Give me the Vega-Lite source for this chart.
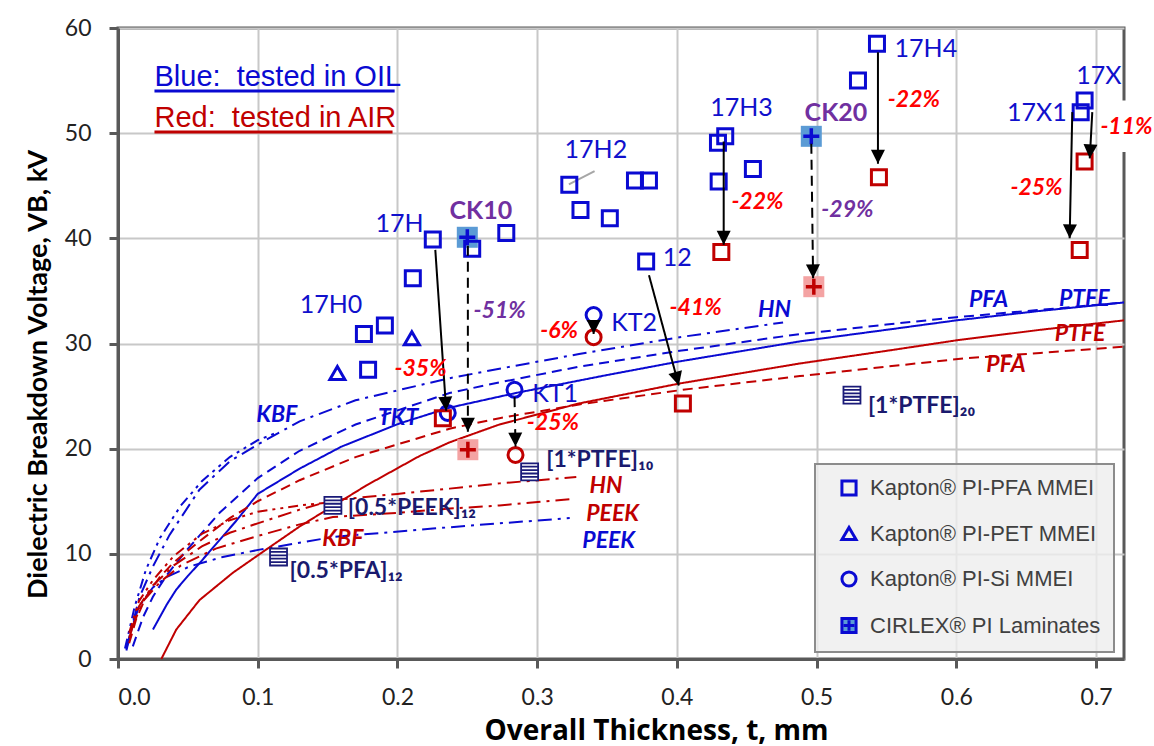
{
  "$schema": "https://vega.github.io/schema/vega-lite/v6.json",
  "width": 1006,
  "height": 631,
  "autosize": {"type": "none"},
  "padding": {"left": 118, "top": 28, "right": 30, "bottom": 87},
  "background": "white",
  "config": {
    "font": "Lato",
    "view": {"stroke": "#595959", "strokeWidth": 3},
    "legend": {
      "orient": "none", "legendX": 697, "legendY": 436,
      "fillColor": "rgba(238,238,238,0.8)", "strokeColor": "#8c8c8c", "strokeWidth": 2,
      "padding": 13, "rowPadding": 18.5, "labelOffset": 10, "symbolOffset": 10, "labelLimit": 400,
      "labelFont": "Liberation Sans", "labelFontSize": 22, "labelColor": "#404040",
      "symbolSize": 200, "symbolStrokeWidth": 3, "title": null
    }
  },
  "datasets": {
    "curves": [
      {"c": "PTFE", "m": "OIL", "x": 0.025, "y": 2.8}, {"c": "PTFE", "m": "OIL", "x": 0.035, "y": 5.2}, {"c": "PTFE", "m": "OIL", "x": 0.0417, "y": 6.6}, {"c": "PTFE", "m": "OIL", "x": 0.05, "y": 7.9}, {"c": "PTFE", "m": "OIL", "x": 0.0583, "y": 9.1}, {"c": "PTFE", "m": "OIL", "x": 0.07, "y": 10.9}, {"c": "PTFE", "m": "OIL", "x": 0.085, "y": 13.2}, {"c": "PTFE", "m": "OIL", "x": 0.1, "y": 15.7}, {"c": "PTFE", "m": "OIL", "x": 0.13, "y": 18.1}, {"c": "PTFE", "m": "OIL", "x": 0.16, "y": 20.2}, {"c": "PTFE", "m": "OIL", "x": 0.2015, "y": 22.4}, {"c": "PTFE", "m": "OIL", "x": 0.2373, "y": 23.9}, {"c": "PTFE", "m": "OIL", "x": 0.285, "y": 25.3}, {"c": "PTFE", "m": "OIL", "x": 0.35, "y": 27.0}, {"c": "PTFE", "m": "OIL", "x": 0.402, "y": 28.3}, {"c": "PTFE", "m": "OIL", "x": 0.488, "y": 30.2}, {"c": "PTFE", "m": "OIL", "x": 0.55, "y": 31.3}, {"c": "PTFE", "m": "OIL", "x": 0.6, "y": 32.2}, {"c": "PTFE", "m": "OIL", "x": 0.66, "y": 33.1}, {"c": "PTFE", "m": "OIL", "x": 0.72, "y": 33.9},
      {"c": "PFA", "m": "OIL", "x": 0.0106, "y": 1.2}, {"c": "PFA", "m": "OIL", "x": 0.018, "y": 4.0}, {"c": "PFA", "m": "OIL", "x": 0.0249, "y": 5.9}, {"c": "PFA", "m": "OIL", "x": 0.035, "y": 8.0}, {"c": "PFA", "m": "OIL", "x": 0.0488, "y": 10.3}, {"c": "PFA", "m": "OIL", "x": 0.0727, "y": 13.9}, {"c": "PFA", "m": "OIL", "x": 0.1, "y": 17.2}, {"c": "PFA", "m": "OIL", "x": 0.13, "y": 19.8}, {"c": "PFA", "m": "OIL", "x": 0.17, "y": 22.3}, {"c": "PFA", "m": "OIL", "x": 0.2373, "y": 25.3}, {"c": "PFA", "m": "OIL", "x": 0.273, "y": 26.3}, {"c": "PFA", "m": "OIL", "x": 0.33, "y": 27.8}, {"c": "PFA", "m": "OIL", "x": 0.402, "y": 29.3}, {"c": "PFA", "m": "OIL", "x": 0.488, "y": 30.9}, {"c": "PFA", "m": "OIL", "x": 0.55, "y": 31.8}, {"c": "PFA", "m": "OIL", "x": 0.6, "y": 32.5}, {"c": "PFA", "m": "OIL", "x": 0.66, "y": 33.2}, {"c": "PFA", "m": "OIL", "x": 0.72, "y": 33.9},
      {"c": "HN", "m": "OIL", "x": 0.006, "y": 1.0}, {"c": "HN", "m": "OIL", "x": 0.0154, "y": 5.9}, {"c": "HN", "m": "OIL", "x": 0.025, "y": 8.8}, {"c": "HN", "m": "OIL", "x": 0.0369, "y": 11.8}, {"c": "HN", "m": "OIL", "x": 0.0583, "y": 16.1}, {"c": "HN", "m": "OIL", "x": 0.08, "y": 18.8}, {"c": "HN", "m": "OIL", "x": 0.1014, "y": 20.5}, {"c": "HN", "m": "OIL", "x": 0.13, "y": 22.6}, {"c": "HN", "m": "OIL", "x": 0.17, "y": 24.6}, {"c": "HN", "m": "OIL", "x": 0.2373, "y": 26.7}, {"c": "HN", "m": "OIL", "x": 0.273, "y": 27.6}, {"c": "HN", "m": "OIL", "x": 0.33, "y": 29.0}, {"c": "HN", "m": "OIL", "x": 0.402, "y": 30.6}, {"c": "HN", "m": "OIL", "x": 0.476, "y": 32.0},
      {"c": "KBF", "m": "OIL", "x": 0.005, "y": 1.0}, {"c": "KBF", "m": "OIL", "x": 0.012, "y": 5.0}, {"c": "KBF", "m": "OIL", "x": 0.02, "y": 8.5}, {"c": "KBF", "m": "OIL", "x": 0.03, "y": 11.5}, {"c": "KBF", "m": "OIL", "x": 0.045, "y": 14.6}, {"c": "KBF", "m": "OIL", "x": 0.06, "y": 16.9}, {"c": "KBF", "m": "OIL", "x": 0.08, "y": 19.2}, {"c": "KBF", "m": "OIL", "x": 0.1, "y": 20.8}, {"c": "KBF", "m": "OIL", "x": 0.115, "y": 21.6},
      {"c": "PEEK", "m": "OIL", "x": 0.006, "y": 0.8}, {"c": "PEEK", "m": "OIL", "x": 0.01, "y": 3.0}, {"c": "PEEK", "m": "OIL", "x": 0.015, "y": 5.0}, {"c": "PEEK", "m": "OIL", "x": 0.025, "y": 6.8}, {"c": "PEEK", "m": "OIL", "x": 0.035, "y": 7.8}, {"c": "PEEK", "m": "OIL", "x": 0.0512, "y": 8.8}, {"c": "PEEK", "m": "OIL", "x": 0.075, "y": 9.7}, {"c": "PEEK", "m": "OIL", "x": 0.1014, "y": 10.4}, {"c": "PEEK", "m": "OIL", "x": 0.1538, "y": 11.6}, {"c": "PEEK", "m": "OIL", "x": 0.2253, "y": 12.4}, {"c": "PEEK", "m": "OIL", "x": 0.273, "y": 12.9}, {"c": "PEEK", "m": "OIL", "x": 0.3233, "y": 13.4},
      {"c": "PTFE", "m": "AIR", "x": 0.031, "y": 0.0}, {"c": "PTFE", "m": "AIR", "x": 0.0417, "y": 2.8}, {"c": "PTFE", "m": "AIR", "x": 0.0583, "y": 5.6}, {"c": "PTFE", "m": "AIR", "x": 0.0822, "y": 8.2}, {"c": "PTFE", "m": "AIR", "x": 0.106, "y": 10.4}, {"c": "PTFE", "m": "AIR", "x": 0.13, "y": 12.6}, {"c": "PTFE", "m": "AIR", "x": 0.1777, "y": 16.5}, {"c": "PTFE", "m": "AIR", "x": 0.2158, "y": 19.3}, {"c": "PTFE", "m": "AIR", "x": 0.2373, "y": 20.6}, {"c": "PTFE", "m": "AIR", "x": 0.273, "y": 22.3}, {"c": "PTFE", "m": "AIR", "x": 0.33, "y": 24.3}, {"c": "PTFE", "m": "AIR", "x": 0.402, "y": 26.2}, {"c": "PTFE", "m": "AIR", "x": 0.488, "y": 28.1}, {"c": "PTFE", "m": "AIR", "x": 0.55, "y": 29.3}, {"c": "PTFE", "m": "AIR", "x": 0.6, "y": 30.3}, {"c": "PTFE", "m": "AIR", "x": 0.66, "y": 31.3}, {"c": "PTFE", "m": "AIR", "x": 0.72, "y": 32.2},
      {"c": "PFA", "m": "AIR", "x": 0.008, "y": 1.5}, {"c": "PFA", "m": "AIR", "x": 0.013, "y": 3.8}, {"c": "PFA", "m": "AIR", "x": 0.02, "y": 5.9}, {"c": "PFA", "m": "AIR", "x": 0.03, "y": 7.8}, {"c": "PFA", "m": "AIR", "x": 0.04, "y": 9.2}, {"c": "PFA", "m": "AIR", "x": 0.0583, "y": 11.2}, {"c": "PFA", "m": "AIR", "x": 0.08, "y": 13.4}, {"c": "PFA", "m": "AIR", "x": 0.1, "y": 15.0}, {"c": "PFA", "m": "AIR", "x": 0.13, "y": 17.0}, {"c": "PFA", "m": "AIR", "x": 0.17, "y": 19.2}, {"c": "PFA", "m": "AIR", "x": 0.2373, "y": 21.9}, {"c": "PFA", "m": "AIR", "x": 0.273, "y": 22.9}, {"c": "PFA", "m": "AIR", "x": 0.33, "y": 24.2}, {"c": "PFA", "m": "AIR", "x": 0.4043, "y": 25.6}, {"c": "PFA", "m": "AIR", "x": 0.488, "y": 26.9}, {"c": "PFA", "m": "AIR", "x": 0.55, "y": 27.8}, {"c": "PFA", "m": "AIR", "x": 0.607, "y": 28.6}, {"c": "PFA", "m": "AIR", "x": 0.66, "y": 29.1}, {"c": "PFA", "m": "AIR", "x": 0.72, "y": 29.7},
      {"c": "HN", "m": "AIR", "x": 0.008, "y": 2.0}, {"c": "HN", "m": "AIR", "x": 0.015, "y": 5.0}, {"c": "HN", "m": "AIR", "x": 0.025, "y": 7.0}, {"c": "HN", "m": "AIR", "x": 0.04, "y": 8.9}, {"c": "HN", "m": "AIR", "x": 0.06, "y": 10.7}, {"c": "HN", "m": "AIR", "x": 0.08, "y": 12.0}, {"c": "HN", "m": "AIR", "x": 0.1, "y": 12.9}, {"c": "HN", "m": "AIR", "x": 0.13, "y": 14.2}, {"c": "HN", "m": "AIR", "x": 0.1538, "y": 15.1}, {"c": "HN", "m": "AIR", "x": 0.2, "y": 15.7}, {"c": "HN", "m": "AIR", "x": 0.2373, "y": 16.2}, {"c": "HN", "m": "AIR", "x": 0.273, "y": 16.7}, {"c": "HN", "m": "AIR", "x": 0.328, "y": 17.3},
      {"c": "PEEK", "m": "AIR", "x": 0.01, "y": 3.0}, {"c": "PEEK", "m": "AIR", "x": 0.018, "y": 5.5}, {"c": "PEEK", "m": "AIR", "x": 0.03, "y": 7.3}, {"c": "PEEK", "m": "AIR", "x": 0.045, "y": 8.9}, {"c": "PEEK", "m": "AIR", "x": 0.07, "y": 10.5}, {"c": "PEEK", "m": "AIR", "x": 0.1, "y": 11.7}, {"c": "PEEK", "m": "AIR", "x": 0.13, "y": 12.8}, {"c": "PEEK", "m": "AIR", "x": 0.1538, "y": 13.5}, {"c": "PEEK", "m": "AIR", "x": 0.2, "y": 13.9}, {"c": "PEEK", "m": "AIR", "x": 0.2373, "y": 14.3}, {"c": "PEEK", "m": "AIR", "x": 0.273, "y": 14.6}, {"c": "PEEK", "m": "AIR", "x": 0.3233, "y": 15.2},
      {"c": "KBF", "m": "AIR", "x": 0.008, "y": 2.5}, {"c": "KBF", "m": "AIR", "x": 0.015, "y": 5.5}, {"c": "KBF", "m": "AIR", "x": 0.025, "y": 7.5}, {"c": "KBF", "m": "AIR", "x": 0.04, "y": 9.8}, {"c": "KBF", "m": "AIR", "x": 0.06, "y": 11.9}, {"c": "KBF", "m": "AIR", "x": 0.08, "y": 13.2}, {"c": "KBF", "m": "AIR", "x": 0.1, "y": 14.0}, {"c": "KBF", "m": "AIR", "x": 0.13, "y": 14.6}, {"c": "KBF", "m": "AIR", "x": 0.16, "y": 15.0}
    ],
    "markers": [
      {"mat": "Kapton® PI-PFA MMEI", "m": "OIL", "x": 0.176, "y": 30.9}, {"mat": "Kapton® PI-PFA MMEI", "m": "OIL", "x": 0.191, "y": 31.7}, {"mat": "Kapton® PI-PFA MMEI", "m": "OIL", "x": 0.179, "y": 27.5}, {"mat": "Kapton® PI-PFA MMEI", "m": "OIL", "x": 0.211, "y": 36.2}, {"mat": "Kapton® PI-PFA MMEI", "m": "OIL", "x": 0.2253, "y": 39.9}, {"mat": "Kapton® PI-PFA MMEI", "m": "OIL", "x": 0.2535, "y": 39.0}, {"mat": "Kapton® PI-PFA MMEI", "m": "OIL", "x": 0.2779, "y": 40.5}, {"mat": "Kapton® PI-PFA MMEI", "m": "OIL", "x": 0.323, "y": 45.1}, {"mat": "Kapton® PI-PFA MMEI", "m": "OIL", "x": 0.331, "y": 42.7}, {"mat": "Kapton® PI-PFA MMEI", "m": "OIL", "x": 0.352, "y": 41.9}, {"mat": "Kapton® PI-PFA MMEI", "m": "OIL", "x": 0.37, "y": 45.5}, {"mat": "Kapton® PI-PFA MMEI", "m": "OIL", "x": 0.38, "y": 45.5}, {"mat": "Kapton® PI-PFA MMEI", "m": "OIL", "x": 0.378, "y": 37.8}, {"mat": "Kapton® PI-PFA MMEI", "m": "OIL", "x": 0.4346, "y": 49.7}, {"mat": "Kapton® PI-PFA MMEI", "m": "OIL", "x": 0.4294, "y": 49.1}, {"mat": "Kapton® PI-PFA MMEI", "m": "OIL", "x": 0.4299, "y": 45.4}, {"mat": "Kapton® PI-PFA MMEI", "m": "OIL", "x": 0.4544, "y": 46.6}, {"mat": "Kapton® PI-PFA MMEI", "m": "OIL", "x": 0.5296, "y": 55.0}, {"mat": "Kapton® PI-PFA MMEI", "m": "OIL", "x": 0.5432, "y": 58.5}, {"mat": "Kapton® PI-PFA MMEI", "m": "OIL", "x": 0.6918, "y": 53.1}, {"mat": "Kapton® PI-PFA MMEI", "m": "OIL", "x": 0.689, "y": 52.0},
      {"mat": "Kapton® PI-PFA MMEI", "m": "AIR", "x": 0.2325, "y": 22.9}, {"mat": "Kapton® PI-PFA MMEI", "m": "AIR", "x": 0.4318, "y": 38.7}, {"mat": "Kapton® PI-PFA MMEI", "m": "AIR", "x": 0.5446, "y": 45.8}, {"mat": "Kapton® PI-PFA MMEI", "m": "AIR", "x": 0.6918, "y": 47.3}, {"mat": "Kapton® PI-PFA MMEI", "m": "AIR", "x": 0.6883, "y": 38.9}, {"mat": "Kapton® PI-PFA MMEI", "m": "AIR", "x": 0.4043, "y": 24.3},
      {"mat": "Kapton® PI-PET MMEI", "m": "OIL", "x": 0.157, "y": 27.2}, {"mat": "Kapton® PI-PET MMEI", "m": "OIL", "x": 0.2103, "y": 30.5},
      {"mat": "Kapton® PI-Si MMEI", "m": "OIL", "x": 0.3404, "y": 32.7}, {"mat": "Kapton® PI-Si MMEI", "m": "OIL", "x": 0.2838, "y": 25.6}, {"mat": "Kapton® PI-Si MMEI", "m": "OIL", "x": 0.236, "y": 23.4},
      {"mat": "Kapton® PI-Si MMEI", "m": "AIR", "x": 0.3404, "y": 30.6}, {"mat": "Kapton® PI-Si MMEI", "m": "AIR", "x": 0.2845, "y": 19.4},
      {"mat": "CIRLEX® PI Laminates", "m": "OIL", "x": 0.25, "y": 40.1}, {"mat": "CIRLEX® PI Laminates", "m": "OIL", "x": 0.4962, "y": 49.7},
      {"mat": "CIRLEX® PI Laminates", "m": "AIR", "x": 0.2504, "y": 19.9}, {"mat": "CIRLEX® PI Laminates", "m": "AIR", "x": 0.498, "y": 35.4}
    ],
    "laminates": [
      {"t": "[0.5*PFA]₁₂", "x": 0.1149, "y": 9.7, "lx": 0.1228, "ly": 7.7},
      {"t": "[0.5*PEEK]₁₂", "x": 0.1538, "y": 14.6, "lx": 0.1645, "ly": 13.7},
      {"t": "[1*PTFE]₁₀", "x": 0.2946, "y": 17.8, "lx": 0.3065, "ly": 18.3},
      {"t": "[1*PTFE]₂₀", "x": 0.5253, "y": 25.1, "lx": 0.5367, "ly": 23.4}
    ],
    "arrows": [
      {"id": "17H", "k": "solid", "x": 0.2271, "y": 38.9, "x2": 0.2349, "y2": 23.6},
      {"id": "CK10", "k": "dashdot", "x": 0.2504, "y": 39.3, "x2": 0.2504, "y2": 21.6},
      {"id": "KT1", "k": "dashdot", "x": 0.2838, "y": 24.9, "x2": 0.2845, "y2": 20.2},
      {"id": "KT2", "k": "solid", "x": 0.3404, "y": 32.1, "x2": 0.3404, "y2": 30.9},
      {"id": "12", "k": "solid", "x": 0.38, "y": 36.5, "x2": 0.4014, "y2": 26.0},
      {"id": "17H3", "k": "solid", "x": 0.4335, "y": 49.2, "x2": 0.4335, "y2": 39.4},
      {"id": "CK20", "k": "dashdot", "x": 0.4962, "y": 49.0, "x2": 0.4975, "y2": 36.2},
      {"id": "17H4", "k": "solid", "x": 0.5439, "y": 57.7, "x2": 0.5439, "y2": 47.1},
      {"id": "17X1", "k": "solid", "x": 0.683, "y": 52.0, "x2": 0.6811, "y2": 40.0},
      {"id": "17X", "k": "solid", "x": 0.6973, "y": 52.0, "x2": 0.6955, "y2": 47.6}
    ],
    "leaders": [{"x": 0.3227, "y": 45.14, "x2": 0.3411, "y2": 46.4}],
    "idLabels": [
      {"t": "17H0", "x": 0.13, "y": 32.86}, {"t": "17H", "x": 0.1843, "y": 40.6}, {"t": "17H2", "x": 0.3196, "y": 47.63}, {"t": "17H3", "x": 0.4239, "y": 51.6}, {"t": "17H4", "x": 0.5558, "y": 57.2}, {"t": "17X", "x": 0.6859, "y": 54.7}, {"t": "17X1", "x": 0.6362, "y": 51.15}, {"t": "12", "x": 0.3898, "y": 37.35}, {"t": "KT2", "x": 0.353, "y": 31.18}, {"t": "KT1", "x": 0.2965, "y": 24.46}
    ],
    "ckLabels": [{"t": "CK10", "x": 0.2373, "y": 41.8}, {"t": "CK20", "x": 0.4914, "y": 51.2}],
    "dropRed": [
      {"t": "-35%", "x": 0.1979, "y": 26.9}, {"t": "-6%", "x": 0.3022, "y": 30.5}, {"t": "-41%", "x": 0.3948, "y": 32.7}, {"t": "-25%", "x": 0.2926, "y": 21.8}, {"t": "-22%", "x": 0.439, "y": 42.8}, {"t": "-22%", "x": 0.551, "y": 52.5}, {"t": "-25%", "x": 0.6387, "y": 44.1}, {"t": "-11%", "x": 0.7031, "y": 49.95}
    ],
    "dropPurple": [{"t": "-51%", "x": 0.2545, "y": 32.4}, {"t": "-29%", "x": 0.5034, "y": 42.0}],
    "curveNames": [
      {"t": "PFA", "m": "OIL", "x": 0.609, "y": 33.5}, {"t": "PTFE", "m": "OIL", "x": 0.6734, "y": 33.6}, {"t": "HN", "m": "OIL", "x": 0.458, "y": 32.5}, {"t": "KBF", "m": "OIL", "x": 0.0989, "y": 22.5}, {"t": "TKT", "m": "OIL", "x": 0.186, "y": 22.25}, {"t": "PEEK", "m": "OIL", "x": 0.3323, "y": 10.6},
      {"t": "PTFE", "m": "AIR", "x": 0.6704, "y": 30.26}, {"t": "PFA", "m": "AIR", "x": 0.6215, "y": 27.3}, {"t": "HN", "m": "AIR", "x": 0.3375, "y": 15.8}, {"t": "PEEK", "m": "AIR", "x": 0.3351, "y": 13.1}, {"t": "KBF", "m": "AIR", "x": 0.1462, "y": 10.7}
    ],
    "notes": [
      {"t": "Blue:\u00a0 tested in OIL", "m": "OIL", "x": 0.0261, "y": 54.45, "x2": 0.198, "uy": 54.0},
      {"t": "Red:\u00a0 tested in AIR", "m": "AIR", "x": 0.0261, "y": 50.58, "x2": 0.1965, "uy": 50.1}
    ]
  },
  "layer": [
    {
      "data": {"name": "curves"},
      "mark": {"type": "line", "strokeWidth": 2},
      "encoding": {
        "x": {"field": "x", "type": "quantitative",
          "scale": {"domain": [0, 0.72], "nice": false, "zero": false},
          "axis": {"values": [0, 0.1, 0.2, 0.3, 0.4, 0.5, 0.6, 0.7], "format": ".1f",
            "title": "Overall Thickness, t, mm", "titleFont": "Open Sans", "titleFontSize": 28, "titleFontWeight": "bold", "titleColor": "#000",
            "titleX": 538, "titleY": 80, "titleBaseline": "alphabetic",
            "labelFont": "Lato", "labelFontSize": 23, "labelColor": "#222", "labelPadding": 18,
            "domainColor": "#595959", "domainWidth": 3, "tickColor": "#595959", "tickWidth": 3, "tickSize": 9,
            "gridColor": "#c8c8c8", "gridWidth": 2}},
        "y": {"field": "y", "type": "quantitative",
          "scale": {"domain": [0, 60], "nice": false, "zero": false},
          "axis": {"values": [0, 10, 20, 30, 40, 50, 60],
            "title": "Dielectric Breakdown Voltage, VB, kV", "titleFont": "Lato", "titleFontSize": 27, "titleFontWeight": "bold", "titleColor": "#000",
            "titleX": -72, "titleY": 346, "titleAngle": -90, "titleBaseline": "alphabetic", "titleAlign": "center",
            "labelFont": "Lato", "labelFontSize": 23, "labelColor": "#222", "labelPadding": 18,
            "domainColor": "#595959", "domainWidth": 3, "tickColor": "#595959", "tickWidth": 3, "tickSize": 9,
            "gridColor": "#c8c8c8", "gridWidth": 2}},
        "color": {"field": "m", "type": "nominal", "scale": {"domain": ["OIL", "AIR"], "range": ["#0a0ad2", "#c00000"]}, "legend": null},
        "strokeDash": {"field": "c", "type": "nominal", "scale": {"domain": ["PTFE", "PFA", "HN", "PEEK", "KBF"], "range": [[1, 0], [10, 6], [14, 6, 3, 6], [14, 6, 3, 6], [10, 5, 3, 5, 3, 5]]}, "legend": null},
        "order": {"field": "x", "type": "quantitative"}
      }
    },
    {
      "data": {"name": "notes"},
      "mark": {"type": "rule", "strokeWidth": 3},
      "encoding": {
        "x": {"field": "x", "type": "quantitative"}, "x2": {"field": "x2"},
        "y": {"field": "uy", "type": "quantitative"},
        "color": {"field": "m", "type": "nominal", "legend": null}
      }
    },
    {
      "data": {"name": "notes"},
      "transform": [{"filter": "datum.m === 'OIL'"}],
      "mark": {"type": "text", "font": "Liberation Sans", "fontSize": 29, "align": "left", "baseline": "alphabetic", "fill": "#0a0ad2"},
      "encoding": {"x": {"field": "x", "type": "quantitative"}, "y": {"field": "y", "type": "quantitative"}, "text": {"field": "t"}}
    },
    {
      "data": {"name": "notes"},
      "transform": [{"filter": "datum.m === 'AIR'"}],
      "mark": {"type": "text", "font": "Liberation Sans", "fontSize": 29, "align": "left", "baseline": "alphabetic", "fill": "#c00000"},
      "encoding": {"x": {"field": "x", "type": "quantitative"}, "y": {"field": "y", "type": "quantitative"}, "text": {"field": "t"}}
    },
    {
      "data": {"name": "leaders"},
      "mark": {"type": "rule", "stroke": "#a6a6a6", "strokeWidth": 2},
      "encoding": {"x": {"field": "x", "type": "quantitative"}, "y": {"field": "y", "type": "quantitative"}, "x2": {"field": "x2"}, "y2": {"field": "y2"}}
    },
    {
      "data": {"name": "markers"},
      "transform": [{"filter": "datum.mat === 'CIRLEX® PI Laminates' && datum.m === 'OIL'"}],
      "mark": {"type": "point", "shape": "square", "filled": true, "fill": "#5b9bd5", "size": 441, "opacity": 1, "strokeWidth": 0},
      "encoding": {"x": {"field": "x", "type": "quantitative"}, "y": {"field": "y", "type": "quantitative"}}
    },
    {
      "data": {"name": "markers"},
      "transform": [{"filter": "datum.mat === 'CIRLEX® PI Laminates' && datum.m === 'AIR'"}],
      "mark": {"type": "point", "shape": "square", "filled": true, "fill": "#f4a3a3", "size": 441, "opacity": 1, "strokeWidth": 0},
      "encoding": {"x": {"field": "x", "type": "quantitative"}, "y": {"field": "y", "type": "quantitative"}}
    },
    {
      "data": {"name": "markers"},
      "transform": [{"filter": "datum.mat === 'CIRLEX® PI Laminates' && datum.m === 'OIL'"}],
      "mark": {"type": "point", "shape": "M-1,0H1M0,-1V1", "filled": false, "stroke": "#0a0ad2", "size": 256, "strokeWidth": 3.5, "opacity": 1},
      "encoding": {"x": {"field": "x", "type": "quantitative"}, "y": {"field": "y", "type": "quantitative"}}
    },
    {
      "data": {"name": "markers"},
      "transform": [{"filter": "datum.mat === 'CIRLEX® PI Laminates' && datum.m === 'AIR'"}],
      "mark": {"type": "point", "shape": "M-1,0H1M0,-1V1", "filled": false, "stroke": "#c00000", "size": 256, "strokeWidth": 3.5, "opacity": 1},
      "encoding": {"x": {"field": "x", "type": "quantitative"}, "y": {"field": "y", "type": "quantitative"}}
    },
    {
      "data": {"name": "markers"},
      "transform": [{"filter": "datum.mat !== 'CIRLEX® PI Laminates' && datum.m === 'OIL'"}],
      "mark": {"type": "point", "filled": false, "size": 225, "strokeWidth": 3, "opacity": 1},
      "encoding": {
        "x": {"field": "x", "type": "quantitative"}, "y": {"field": "y", "type": "quantitative"},
        "shape": {"field": "mat", "type": "nominal",
          "scale": {"domain": ["Kapton® PI-PFA MMEI", "Kapton® PI-PET MMEI", "Kapton® PI-Si MMEI", "CIRLEX® PI Laminates"],
                    "range": ["square", "triangle-up", "circle", "M-1,-1H1V1H-1ZM-0.75,0H0.75M0,-0.75V0.75"]}},
        "stroke": {"field": "mat", "type": "nominal",
          "scale": {"domain": ["Kapton® PI-PFA MMEI", "Kapton® PI-PET MMEI", "Kapton® PI-Si MMEI", "CIRLEX® PI Laminates"],
                    "range": ["#0a0ad2", "#0a0ad2", "#0a0ad2", "#0a0ad2"]}},
        "fill": {"field": "mat", "type": "nominal",
          "scale": {"domain": ["Kapton® PI-PFA MMEI", "Kapton® PI-PET MMEI", "Kapton® PI-Si MMEI", "CIRLEX® PI Laminates"],
                    "range": ["transparent", "transparent", "transparent", "#5b9bd5"]}}
      }
    },
    {
      "data": {"name": "markers"},
      "transform": [{"filter": "datum.mat !== 'CIRLEX® PI Laminates' && datum.m === 'AIR'"}],
      "mark": {"type": "point", "filled": false, "stroke": "#c00000", "size": 225, "strokeWidth": 3, "opacity": 1},
      "encoding": {
        "x": {"field": "x", "type": "quantitative"}, "y": {"field": "y", "type": "quantitative"},
        "shape": {"field": "mat", "type": "nominal"}
      }
    },
    {
      "data": {"name": "laminates"},
      "mark": {"type": "point", "shape": "M-1,-1H1V1H-1ZM-1,-0.6H1M-1,-0.2H1M-1,0.2H1M-1,0.6H1", "filled": false, "fill": "white", "fillOpacity": 1, "stroke": "#1a1a78", "strokeWidth": 1.8, "size": 289, "opacity": 1},
      "encoding": {"x": {"field": "x", "type": "quantitative"}, "y": {"field": "y", "type": "quantitative"}}
    },
    {
      "data": {"name": "arrows"},
      "mark": {"type": "rule", "stroke": "black", "strokeWidth": 2},
      "encoding": {
        "x": {"field": "x", "type": "quantitative"}, "y": {"field": "y", "type": "quantitative"},
        "x2": {"field": "x2"}, "y2": {"field": "y2"},
        "strokeDash": {"field": "k", "type": "nominal", "scale": {"domain": ["solid", "dashdot"], "range": [[1, 0], [14, 4, 2, 4]]}, "legend": null}
      }
    },
    {
      "data": {"name": "arrows"},
      "transform": [{"calculate": "atan2(-(datum.x2 - datum.x) * 1397, (datum.y - datum.y2) * 10.53) * 180 / PI", "as": "turn"}],
      "mark": {"type": "point", "shape": "M0,0L-0.5,-1L0.5,-1Z", "filled": true, "fill": "black", "size": 784, "opacity": 1},
      "encoding": {
        "x": {"field": "x2", "type": "quantitative"}, "y": {"field": "y2", "type": "quantitative"},
        "angle": {"field": "turn", "type": "quantitative", "scale": null}
      }
    },
    {
      "data": {"name": "laminates"},
      "mark": {"type": "text", "font": "Lato", "fontSize": 23, "fontWeight": "bold", "fill": "#1a1a6e", "align": "left", "baseline": "alphabetic"},
      "encoding": {"x": {"field": "lx", "type": "quantitative"}, "y": {"field": "ly", "type": "quantitative"}, "text": {"field": "t"}}
    },
    {
      "data": {"name": "idLabels"},
      "mark": {"type": "text", "font": "Lato", "fontSize": 25, "fill": "#1010cc", "align": "left", "baseline": "alphabetic"},
      "encoding": {"x": {"field": "x", "type": "quantitative"}, "y": {"field": "y", "type": "quantitative"}, "text": {"field": "t"}}
    },
    {
      "data": {"name": "ckLabels"},
      "mark": {"type": "text", "font": "Lato", "fontSize": 25, "fontWeight": "bold", "fill": "#7030a0", "align": "left", "baseline": "alphabetic"},
      "encoding": {"x": {"field": "x", "type": "quantitative"}, "y": {"field": "y", "type": "quantitative"}, "text": {"field": "t"}}
    },
    {
      "data": {"values": [{"x": 0.7012, "x2": 0.742, "y": 48.2, "y2": 53.1}]},
      "mark": {"type": "rect", "fill": "white"},
      "encoding": {"x": {"field": "x", "type": "quantitative"}, "x2": {"field": "x2"}, "y": {"field": "y", "type": "quantitative"}, "y2": {"field": "y2"}}
    },
    {
      "data": {"name": "dropRed"},
      "mark": {"type": "text", "font": "Lato", "fontSize": 23, "fontWeight": "bold", "fontStyle": "italic", "fill": "#ff0000", "align": "left", "baseline": "alphabetic"},
      "encoding": {"x": {"field": "x", "type": "quantitative"}, "y": {"field": "y", "type": "quantitative"}, "text": {"field": "t"}}
    },
    {
      "data": {"name": "dropPurple"},
      "mark": {"type": "text", "font": "Lato", "fontSize": 23, "fontWeight": "bold", "fontStyle": "italic", "fill": "#7030a0", "align": "left", "baseline": "alphabetic"},
      "encoding": {"x": {"field": "x", "type": "quantitative"}, "y": {"field": "y", "type": "quantitative"}, "text": {"field": "t"}}
    },
    {
      "data": {"name": "curveNames"},
      "transform": [{"filter": "datum.m === 'OIL'"}],
      "mark": {"type": "text", "font": "Lato", "fontSize": 23, "fontWeight": "bold", "fontStyle": "italic", "align": "left", "baseline": "alphabetic", "fill": "#0a0ad2"},
      "encoding": {"x": {"field": "x", "type": "quantitative"}, "y": {"field": "y", "type": "quantitative"}, "text": {"field": "t"}}
    },
    {
      "data": {"name": "curveNames"},
      "transform": [{"filter": "datum.m === 'AIR'"}],
      "mark": {"type": "text", "font": "Lato", "fontSize": 23, "fontWeight": "bold", "fontStyle": "italic", "align": "left", "baseline": "alphabetic", "fill": "#c00000"},
      "encoding": {"x": {"field": "x", "type": "quantitative"}, "y": {"field": "y", "type": "quantitative"}, "text": {"field": "t"}}
    }
  ]
}
